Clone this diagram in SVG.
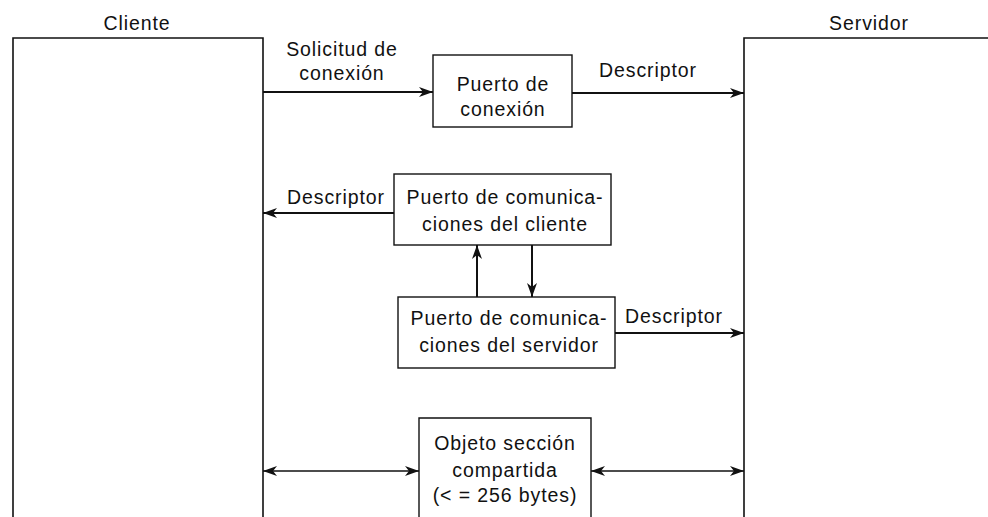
<svg xmlns="http://www.w3.org/2000/svg" width="988" height="517" viewBox="0 0 988 517">
<style>
text{font-family:"Liberation Sans",Arial,sans-serif;font-size:19.5px;letter-spacing:0.9px;fill:#111;text-anchor:middle}
.panel{fill:none;stroke:#111;stroke-width:1.6}
.box{fill:#fff;stroke:#111;stroke-width:1.4}
.arr{fill:none;stroke:#111;stroke-width:2;marker-end:url(#ah)}
.dbl{fill:none;stroke:#111;stroke-width:1.6;marker-end:url(#ah);marker-start:url(#ah)}
</style>
<defs>
<marker id="ah" markerUnits="userSpaceOnUse" markerWidth="16" markerHeight="12" refX="14" refY="5" orient="auto-start-reverse" viewBox="0 0 16 10">
<path d="M0,0 L14,5 L0,10 L4,5 z" fill="#111"/>
</marker>
</defs>
<rect width="988" height="517" fill="#fff"/>
<g id="cliente">
<path class="panel" d="M13,517 V38 H263 V517"/>
<text x="137" y="30">Cliente</text>
</g>
<g id="servidor">
<path class="panel" d="M744,517 V38 H988"/>
<text x="869" y="30">Servidor</text>
</g>
<g id="connectors">
<path class="arr" d="M263,92 H433"/>
<path class="arr" d="M572,93 H744"/>
<path class="arr" d="M394,213 H263"/>
<path class="arr" d="M477,297 V245"/>
<path class="arr" d="M532,245 V297"/>
<path class="arr" d="M615,333 H744"/>
<path class="dbl" d="M263,471 H419"/>
<path class="dbl" d="M591,471 H744"/>
<text x="342" y="56">Solicitud de</text>
<text x="342" y="80">conexión</text>
<text x="648" y="77">Descriptor</text>
<text x="336" y="204">Descriptor</text>
<text x="674" y="323">Descriptor</text>
</g>
<g id="puerto-conexion">
<rect class="box" x="433" y="55" width="139" height="72"/>
<text x="503" y="91">Puerto de</text>
<text x="503" y="116">conexión</text>
</g>
<g id="puerto-cliente">
<rect class="box" x="394" y="174" width="217" height="71"/>
<text x="505" y="204">Puerto de comunica-</text>
<text x="505" y="231">ciones del cliente</text>
</g>
<g id="puerto-servidor">
<rect class="box" x="398" y="297" width="217" height="71"/>
<text x="509" y="325">Puerto de comunica-</text>
<text x="509" y="352">ciones del servidor</text>
</g>
<g id="seccion-compartida">
<path class="box" d="M419,517 V418 H591 V517"/>
<text x="505" y="450">Objeto sección</text>
<text x="505" y="477">compartida</text>
<text x="505" y="502">(&lt; = 256 bytes)</text>
</g>
</svg>
